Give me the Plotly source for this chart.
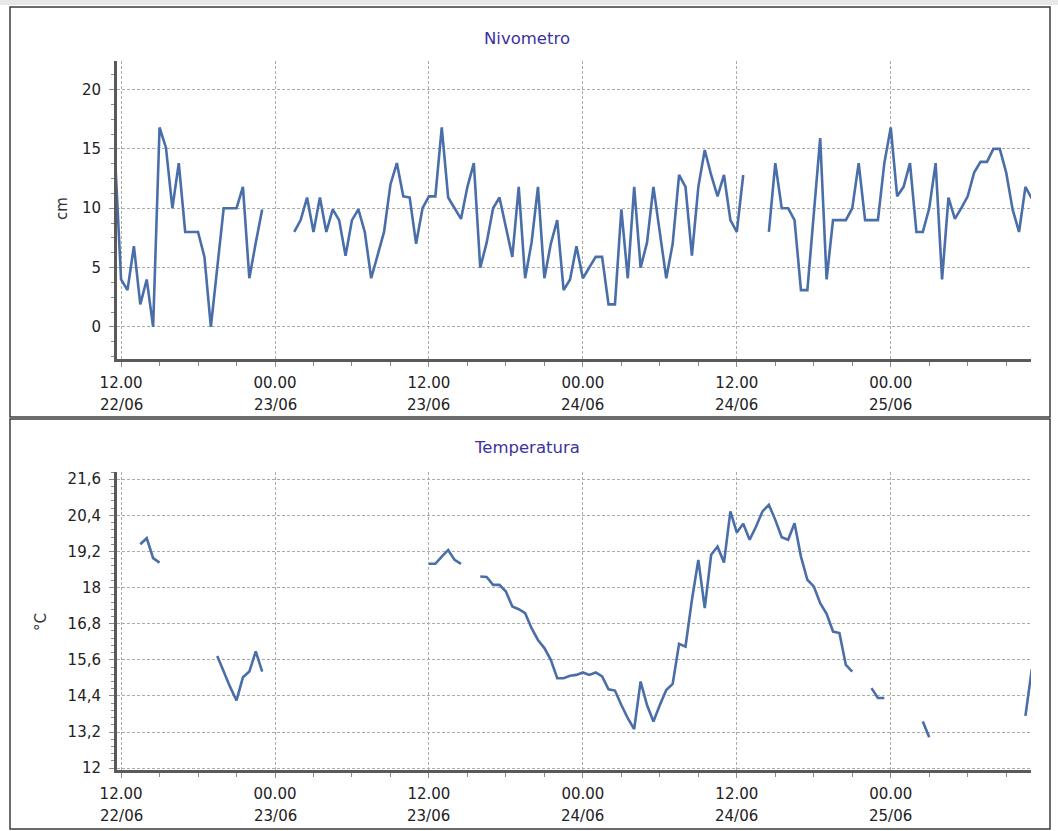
import plotly.graph_objects as go
import pandas as pd

# ---------------- data (half-hourly samples starting 22/06 11:30) ----------------
series_start = "2013-06-22 11:30"

snow_22 = [15.0, 4.0, 3.1, 6.8, 1.9, 4.0, 0.0, 16.8, 15.1, 10.0, 13.8, 8.0, 8.0, 8.0,
           5.9, 0.0, 5.0, 10.0, 10.0, 10.0, 11.8, 4.1, 7.1, 9.9, None]
snow_23 = [None, None, None, 8.0, 9.0, 10.9, 8.0, 10.9, 8.0, 9.9, 9.0, 6.0, 9.0, 9.9,
           8.0, 4.1, 6.0, 8.0, 12.0, 13.8, 11.0, 10.9, 7.0, 10.0, 11.0, 11.0, 16.8, 10.9,
           10.0, 9.1, 11.8, 13.8, 5.0, 7.1, 10.0, 10.9, 8.4, 5.9, 11.8, 4.1, 7.1, 11.8,
           4.1, 7.0, 9.0, 3.1, 4.0, 6.8]
snow_24 = [4.1, 5.0, 5.9, 5.9, 1.9, 1.9, 9.9, 4.1, 11.8, 5.0, 7.1, 11.8, 8.0, 4.1,
           7.0, 12.8, 11.8, 6.0, 11.8, 14.9, 12.8, 11.0, 12.8, 9.0, 8.0, 12.8, None, None,
           None, 8.0, 13.8, 10.0, 10.0, 9.0, 3.1, 3.1, 9.5, 15.9, 4.0, 9.0, 9.0, 9.0,
           10.0, 13.8, 9.0, 9.0, 9.0, 13.8]
snow_25 = [16.8, 11.0, 11.8, 13.8, 8.0, 8.0, 10.0, 13.8, 4.0, 10.9, 9.1, 10.0, 11.0,
           13.0, 13.9, 13.9, 15.0, 15.0, 13.0, 9.9, 8.0, 11.8, 10.8]

temp_22 = [None, None, None, None, 19.44, 19.64, 18.98, 18.83, None, None, None, None,
           None, None, None, None, 15.73, 15.2, 14.7, 14.25, 15.02, 15.21, 15.88, 15.21, None]
temp_23 = [None] * 24 + [18.79, 18.79, 19.03, 19.25, 18.92, 18.79, None, None,
                         18.37, 18.35, 18.09, 18.09, 17.87, 17.37, 17.28, 17.15,
                         16.65, 16.26, 15.99, 15.6, 14.99, 14.99, 15.07, 15.1]
temp_24 = [15.18, 15.1, 15.18, 15.05, 14.62, 14.58, 14.1, 13.66, 13.3, 14.88, 14.1, 13.55,
           14.1, 14.6, 14.8, 16.13, 16.04, 17.59, 18.92, 17.32, 19.09, 19.36, 18.83, 20.53,
           19.83, 20.12, 19.59, 20.03, 20.53, 20.75, 20.25, 19.67, 19.59, 20.14, 19.03, 18.26,
           18.04, 17.48, 17.13, 16.54, 16.49, 15.43, 15.21, None, None, 14.66, 14.33, 14.33]
temp_25 = [None, None, None, None, None, 13.55, 13.03] + [None] * 14 + [13.74, 15.3]

snow_cm = snow_22 + snow_23 + snow_24 + snow_25
temp_c = temp_22 + temp_23 + temp_24 + temp_25
times = pd.date_range(series_start, periods=len(snow_cm), freq="30min")

x_tick_vals = ["2013-06-22 12:00", "2013-06-23 00:00", "2013-06-23 12:00",
               "2013-06-24 00:00", "2013-06-24 12:00", "2013-06-25 00:00"]
x_tick_hours = ["12.00", "00.00", "12.00", "00.00", "12.00", "00.00"]
x_tick_days = ["22/06", "23/06", "23/06", "24/06", "24/06", "25/06"]
snow_ticks = [0, 5, 10, 15, 20]
temp_ticks = [12, 13.2, 14.4, 15.6, 16.8, 18, 19.2, 20.4, 21.6]
temp_tick_text = ["12", "13,2", "14,4", "15,6", "16,8", "18", "19,2", "20,4", "21,6"]

# ---------------- layout geometry ----------------
W, H = 1058, 831
def px(x):
    return x / W
def py(y):
    return 1 - y / H

x_range = ["2013-06-22 11:41", "2013-06-25 10:56"]
x_dom = [px(117), px(1031)]
TOP_T, TOP_B = 61, 359
BOT_T, BOT_B = 472, 770
top_dom = [py(TOP_B), py(TOP_T)]
bot_dom = [py(BOT_B), py(BOT_T)]

LINE = "#4a6ea9"
GRID = "#ababab"
AXIS = "#5a5a5a"
TICKC = "#8a8a8a"
FONT = "DejaVu Sans"
tickfont = dict(family=FONT, size=15, color="#222222")

fig = go.Figure()
fig.add_trace(go.Scatter(x=times, y=snow_cm, mode="lines", connectgaps=False,
                         line=dict(color=LINE, width=2.6), xaxis="x", yaxis="y"))
fig.add_trace(go.Scatter(x=times, y=temp_c, mode="lines", connectgaps=False,
                         line=dict(color=LINE, width=2.6), xaxis="x2", yaxis="y2"))

def xaxis_main(anchor):
    return dict(domain=x_dom, anchor=anchor, type="date", range=x_range, automargin=False,
                tickmode="array", tickvals=x_tick_vals, ticktext=x_tick_hours,
                showgrid=True, gridcolor=GRID, griddash="3px,2px", gridwidth=1,
                showline=True, linecolor=AXIS, linewidth=3,
                ticks="outside", ticklen=5, tickcolor=TICKC, tickwidth=1,
                minor=dict(tickmode="linear", tick0="2013-06-22 12:00", dtick=3 * 3600000,
                           ticks="outside", ticklen=4, tickcolor=TICKC, showgrid=False),
                tickfont=tickfont, ticklabelstandoff=3, zeroline=False)

def yaxis(dom, anchor, rng, tv, tt, minor_dt):
    return dict(domain=dom, anchor=anchor, range=rng, tickmode="array", automargin=False,
                tickvals=tv, ticktext=tt,
                showgrid=True, gridcolor=GRID, griddash="3px,2px", gridwidth=1,
                showline=True, linecolor=AXIS, linewidth=3,
                ticks="outside", ticklen=5, tickcolor=TICKC, tickwidth=1,
                minor=dict(tickmode="linear", tick0=rng[0] - (rng[0] % minor_dt), dtick=minor_dt,
                           ticks="outside", ticklen=3, tickcolor=TICKC, showgrid=False),
                tickfont=tickfont, ticklabelstandoff=5, zeroline=False)

fig.update_layout(
    width=W, height=H, margin=dict(l=0, r=0, t=0, b=0, autoexpand=False),
    paper_bgcolor="white", plot_bgcolor="white", showlegend=False,
    xaxis=xaxis_main("y"),
    xaxis2=xaxis_main("y2"),
    yaxis=yaxis(top_dom, "x", [-2.7, 22.4], snow_ticks, [str(v) for v in snow_ticks], 1.25),
    yaxis2=yaxis(bot_dom, "x2", [11.94, 21.84], temp_ticks, temp_tick_text, 0.24),
)

# second line of the x tick labels (day), placed under the hour labels
for xr, yr, top, bot in [("x", "y domain", TOP_T, TOP_B), ("x2", "y2 domain", BOT_T, BOT_B)]:
    yd = -(46.0) / (bot - top)
    for tv, day in zip(x_tick_vals, x_tick_days):
        fig.add_annotation(text=day, x=tv, y=yd, xref=xr, yref=yr,
                           xanchor="center", yanchor="middle",
                           showarrow=False, font=tickfont)

title_font = dict(family=FONT, size=16.5, color="#3a32a0")
label_font = dict(family=FONT, size=15, color="#333")
for text, x, y, ang, fnt in [("Nivometro", 527, 38, 0, title_font),
                             ("Temperatura", 527, 448, 0, title_font),
                             ("cm", 62, 209, -90, label_font),
                             ("°C", 41, 622, -90, label_font)]:
    fig.add_annotation(text=text, x=px(x), y=py(y), xref="paper", yref="paper",
                       xanchor="center", yanchor="middle", textangle=ang,
                       showarrow=False, font=fnt)

# panel frames
fig.add_shape(type="rect", xref="paper", yref="paper", x0=0, x1=1, y0=py(5), y1=1,
              fillcolor="#e8e8e8", line=dict(width=0), layer="below")
for (t, b) in [(7, 417), (419, 829)]:
    fig.add_shape(type="rect", xref="paper", yref="paper", x0=px(10), x1=px(1050),
                  y0=py(b), y1=py(t), line=dict(color="#3c3c3c", width=1.5))

fig.write_html("out.html", config={"displayModeBar": False},
               post_script="document.body.style.margin='0';document.body.style.overflow='hidden';")
